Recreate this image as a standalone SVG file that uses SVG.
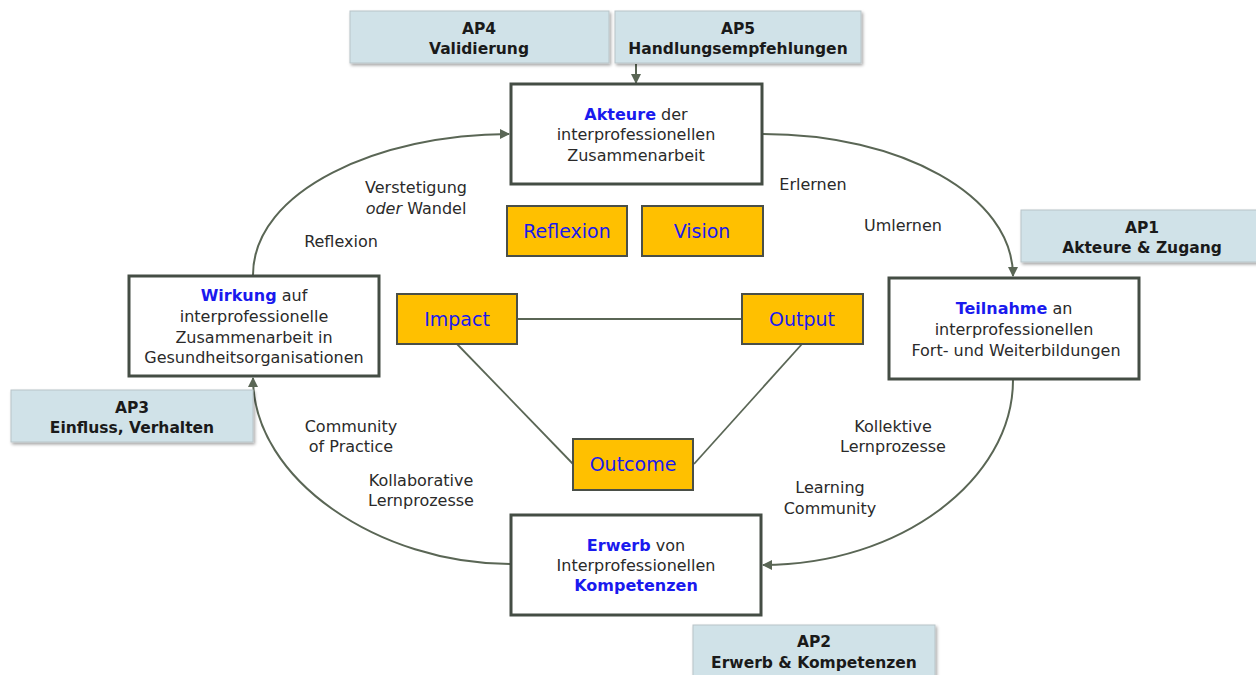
<svg xmlns="http://www.w3.org/2000/svg" width="1256" height="675" viewBox="0 0 1256 675">
<style>
.ap{fill:#d0e2e8;stroke:#b8c4c8;stroke-width:1}
.apt{font-family:"DejaVu Sans","Liberation Sans",sans-serif;font-size:15.5px;font-weight:bold;fill:#1a1a1a;text-anchor:middle}
.main{fill:#ffffff;stroke:#444d44;stroke-width:3}
.mt{font-family:"DejaVu Sans","Liberation Sans",sans-serif;font-size:16px;fill:#2a2a2a;text-anchor:middle}
.b{font-weight:bold;fill:#1a1aee}
.y{fill:#ffc000;stroke:#4a4f48;stroke-width:2}
.yt{font-family:"DejaVu Sans","Liberation Sans",sans-serif;font-size:19px;fill:#1a1aee;text-anchor:middle}
.lbl{font-family:"DejaVu Sans","Liberation Sans",sans-serif;font-size:16px;fill:#2a2a2a;text-anchor:middle}
.con{fill:none;stroke:#5a6655;stroke-width:2}
.tri{fill:none;stroke:#5a6655;stroke-width:1.8}
</style>
<defs>
<marker id="arr" viewBox="0 0 10 10" refX="9" refY="5" markerWidth="10" markerHeight="10" orient="auto" markerUnits="userSpaceOnUse">
<path d="M0,0 L10,5 L0,10 z" fill="#5a6655"/>
</marker>
<filter id="sh" x="-5%" y="-10%" width="115%" height="130%">
<feDropShadow dx="1.5" dy="2" stdDeviation="1.5" flood-color="#000" flood-opacity="0.35"/>
</filter>
</defs>
<rect width="1256" height="675" fill="#ffffff"/>

<g id="connectors">
<path class="con" d="M636,64 L636,83" marker-end="url(#arr)"/>
<path class="con" d="M763,134 C900,134 1013,195 1013,276" marker-end="url(#arr)"/>
<path class="con" d="M1013,380 C1013,480 900,565 763,565" marker-end="url(#arr)"/>
<path class="con" d="M510,564 C380,564 253,480 253,378" marker-end="url(#arr)"/>
<path class="con" d="M253,275 C253,190 380,134 509,134" marker-end="url(#arr)"/>
<line class="tri" x1="517" y1="319" x2="742" y2="319"/>
<line class="tri" x1="457" y1="344" x2="573" y2="464"/>
<line class="tri" x1="802" y1="344" x2="694" y2="464"/>
</g>

<g id="ap4"><rect class="ap" x="350" y="11" width="259" height="52" filter="url(#sh)"/>
<text class="apt" x="479" y="34">AP4</text><text class="apt" x="479" y="54">Validierung</text></g>
<g id="ap5"><rect class="ap" x="615" y="11" width="246" height="52" filter="url(#sh)"/>
<text class="apt" x="738" y="34">AP5</text><text class="apt" x="738" y="54">Handlungsempfehlungen</text></g>
<g id="ap1"><rect class="ap" x="1021" y="210" width="240" height="52" filter="url(#sh)"/>
<text class="apt" x="1142" y="233">AP1</text><text class="apt" x="1142" y="253">Akteure &amp; Zugang</text></g>
<g id="ap3"><rect class="ap" x="11" y="390" width="242" height="52" filter="url(#sh)"/>
<text class="apt" x="132" y="413">AP3</text><text class="apt" x="132" y="433">Einfluss, Verhalten</text></g>
<g id="ap2"><rect class="ap" x="693" y="625" width="242" height="60" filter="url(#sh)"/>
<text class="apt" x="814" y="647">AP2</text><text class="apt" x="814" y="668">Erwerb &amp; Kompetenzen</text></g>

<g id="akteure"><rect class="main" x="511" y="84" width="251" height="100"/>
<text class="mt" x="636" y="120"><tspan class="b">Akteure</tspan> der</text>
<text class="mt" x="636" y="140">interprofessionellen</text>
<text class="mt" x="636" y="161">Zusammenarbeit</text></g>

<g id="teilnahme"><rect class="main" x="889" y="278" width="250" height="101"/>
<text class="mt" x="1014" y="314"><tspan class="b">Teilnahme</tspan> an</text>
<text class="mt" x="1014" y="335">interprofessionellen</text>
<text class="mt" x="1016" y="356">Fort- und Weiterbildungen</text></g>

<g id="erwerb"><rect class="main" x="511" y="515" width="250" height="100"/>
<text class="mt" x="636" y="551"><tspan class="b">Erwerb</tspan> von</text>
<text class="mt" x="636" y="571">Interprofessionellen</text>
<text class="mt b" x="636" y="591">Kompetenzen</text></g>

<g id="wirkung"><rect class="main" x="129" y="276" width="250" height="100"/>
<text class="mt" x="254" y="301"><tspan class="b">Wirkung</tspan> auf</text>
<text class="mt" x="254" y="322">interprofessionelle</text>
<text class="mt" x="254" y="343">Zusammenarbeit in</text>
<text class="mt" x="254" y="363">Gesundheitsorganisationen</text></g>

<g id="reflexion-box"><rect class="y" x="507" y="206" width="120" height="50"/><text class="yt" x="567" y="238">Reflexion</text></g>
<g id="vision"><rect class="y" x="642" y="206" width="121" height="50"/><text class="yt" x="702" y="238">Vision</text></g>
<g id="impact"><rect class="y" x="397" y="294" width="120" height="50"/><text class="yt" x="457" y="326">Impact</text></g>
<g id="output"><rect class="y" x="742" y="294" width="121" height="50"/><text class="yt" x="802" y="326">Output</text></g>
<g id="outcome"><rect class="y" x="573" y="439" width="120" height="51"/><text class="yt" x="633" y="471">Outcome</text></g>

<g id="labels">
<text class="lbl" x="416" y="193">Verstetigung</text>
<text class="lbl" x="416" y="214"><tspan font-style="italic">oder</tspan> Wandel</text>
<text class="lbl" x="341" y="247">Reflexion</text>
<text class="lbl" x="813" y="190">Erlernen</text>
<text class="lbl" x="903" y="231">Umlernen</text>
<text class="lbl" x="893" y="432">Kollektive</text>
<text class="lbl" x="893" y="452">Lernprozesse</text>
<text class="lbl" x="830" y="493">Learning</text>
<text class="lbl" x="830" y="514">Community</text>
<text class="lbl" x="351" y="432">Community</text>
<text class="lbl" x="351" y="452">of Practice</text>
<text class="lbl" x="421" y="486">Kollaborative</text>
<text class="lbl" x="421" y="506">Lernprozesse</text>
</g>
</svg>
